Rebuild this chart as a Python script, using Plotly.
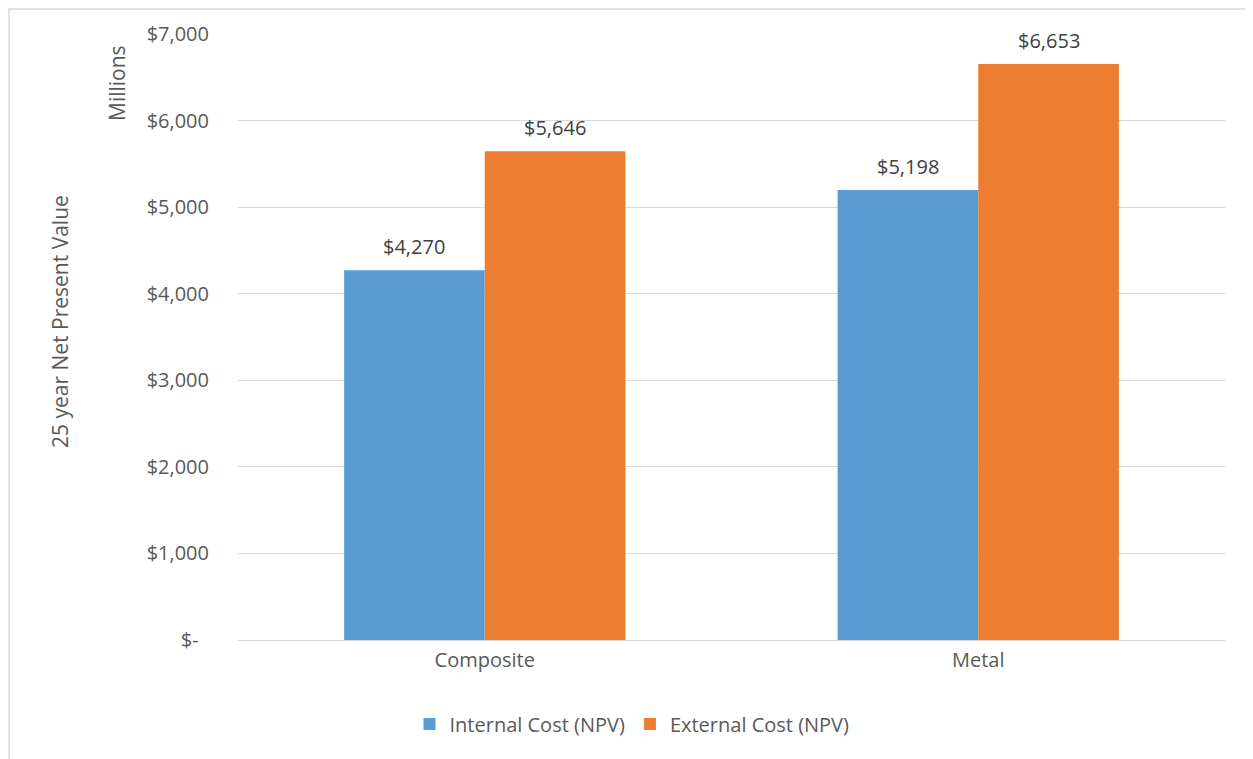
import plotly.graph_objects as go

categories = ["Composite", "Metal"]
internal_cost = [4270, 5198]
external_cost = [5646, 6653]
tick_values = [0, 1000, 2000, 3000, 4000, 5000, 6000, 7000]
tick_labels = ["$-  ", "$1,000", "$2,000", "$3,000", "$4,000", "$5,000", "$6,000", "$7,000"]

# page has an 8px body margin, so the figure is sized to fit inside it
OFF = 8
W, H = 1253 - OFF, 759 - OFF
L, R, T, B = 238 - OFF, 28, 34 - OFF, 119
PW, PH = W - L - R, H - T - B
BARGAP = 0.43
font_family = "Open Sans"
grey_text = "#595959"
label_color = "#404040"


def px_x(x):
    # page pixel -> paper coordinate
    return (x - OFF - L) / PW


def px_y(y):
    return (H - B - (y - OFF)) / PH


fig = go.Figure()

fig.add_trace(
    go.Bar(
        name="Internal Cost (NPV)",
        x=categories,
        y=internal_cost,
        marker=dict(color="#5b9bd5", line=dict(width=0)),
    )
)
fig.add_trace(
    go.Bar(
        name="External Cost (NPV)",
        x=categories,
        y=external_cost,
        marker=dict(color="#ed7d31", line=dict(width=0)),
    )
)

# data labels, placed a little above each bar
bar_w = (1 - BARGAP) / 2
for offset, values in [(-bar_w / 2, internal_cost), (bar_w / 2, external_cost)]:
    for i, v in enumerate(values):
        fig.add_annotation(
            x=i + offset,
            y=v,
            text=f"${v:,}",
            showarrow=False,
            xanchor="center",
            yanchor="bottom",
            yshift=8,
            font=dict(family=font_family, size=20, color=label_color),
        )

fig.update_layout(
    width=W,
    height=H,
    margin=dict(l=L, r=R, t=T, b=B),
    paper_bgcolor="white",
    plot_bgcolor="white",
    barmode="group",
    bargap=BARGAP,
    bargroupgap=0,
    font=dict(family=font_family, color=grey_text, size=20),
    xaxis=dict(
        showgrid=False,
        showline=False,
        ticks="",
        ticklabelstandoff=6,
        tickfont=dict(size=20, color=grey_text),
    ),
    yaxis=dict(
        range=[0, 7000],
        tickvals=tick_values,
        ticktext=tick_labels,
        showgrid=True,
        gridcolor="#d9d9d9",
        gridwidth=1,
        zeroline=True,
        zerolinecolor="#d9d9d9",
        zerolinewidth=1,
        ticks="",
        ticklabelstandoff=28,
        tickfont=dict(size=20, color=grey_text),
    ),
    legend=dict(
        orientation="h",
        x=px_x(632),
        xanchor="center",
        y=px_y(724),
        yanchor="middle",
        font=dict(size=20, color=grey_text),
        itemwidth=30,
        traceorder="normal",
    ),
    showlegend=True,
)

fig.add_annotation(
    text="25 year Net Present Value",
    x=px_x(60),
    y=px_y(322),
    xref="paper",
    yref="paper",
    xanchor="center",
    yanchor="middle",
    textangle=-90,
    showarrow=False,
    font=dict(size=21, color=grey_text),
)
fig.add_annotation(
    text="Millions",
    x=px_x(117),
    y=px_y(83),
    xref="paper",
    yref="paper",
    xanchor="center",
    yanchor="middle",
    textangle=-90,
    showarrow=False,
    font=dict(size=21, color=grey_text),
)

# chart area border
fig.add_shape(
    type="rect",
    xref="paper",
    yref="paper",
    x0=px_x(OFF + 1),
    x1=px_x(1252),
    y0=px_y(775),
    y1=px_y(OFF + 1),
    line=dict(color="#d9d9d9", width=1.5),
    fillcolor="rgba(0,0,0,0)",
    layer="below",
)

fig.write_html("out.html")
